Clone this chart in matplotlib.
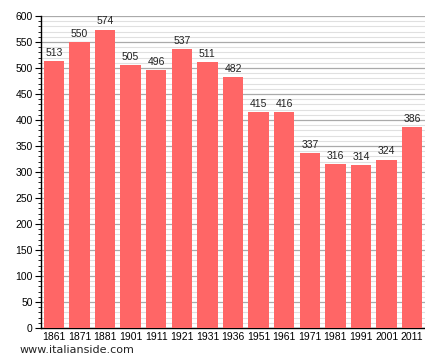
import matplotlib
matplotlib.use('Agg')
import matplotlib.pyplot as plt
from matplotlib.ticker import MultipleLocator

# --- data ---
years = ['1861', '1871', '1881', '1901', '1911', '1921', '1931', '1936',
         '1951', '1961', '1971', '1981', '1991', '2001', '2011']
population = [513, 550, 574, 505, 496, 537, 511, 482, 415, 416, 337, 316, 314, 324, 386]

plt.rcParams['font.family'] = ['Liberation Sans', 'DejaVu Sans']

fig = plt.figure(figsize=(4.25, 3.63), dpi=100)
ax = fig.add_axes([0.0965, 0.0964, 0.9035, 0.8595])

x = list(range(len(years)))
ax.bar(x, population, width=0.8, color='#ff6666', zorder=3)
for xi, v in zip(x, population):
    ax.text(xi, v + 6, str(v), ha='center', va='bottom', fontsize=7.5, color='#222222', zorder=4)

ax.set_xlim(-0.5, len(years) - 0.5)
ax.set_ylim(0, 600)
ax.set_xticks(x)
ax.set_xticklabels(years)
ax.yaxis.set_major_locator(MultipleLocator(50))
ax.yaxis.set_minor_locator(MultipleLocator(10))

ax.grid(axis='y', which='major', color='#aaaaaa', linewidth=0.9, zorder=0)
ax.grid(axis='y', which='minor', color='#e0e0e0', linewidth=0.8, zorder=0)

for s in ['top', 'right']:
    ax.spines[s].set_visible(False)
ax.spines['left'].set_linewidth(1.0)
ax.spines['bottom'].set_linewidth(1.0)
ax.tick_params(axis='y', which='major', length=4, width=0.8, labelsize=7.5, pad=2)
ax.tick_params(axis='y', which='minor', length=2, width=0.6)
ax.tick_params(axis='x', length=0, labelsize=7.5, pad=3)

fig.text(0.045, 0.035, 'www.italianside.com', fontsize=8, color='#222222', va='center',
         family=['DejaVu Sans'])

fig.savefig('out.png', dpi=100)
